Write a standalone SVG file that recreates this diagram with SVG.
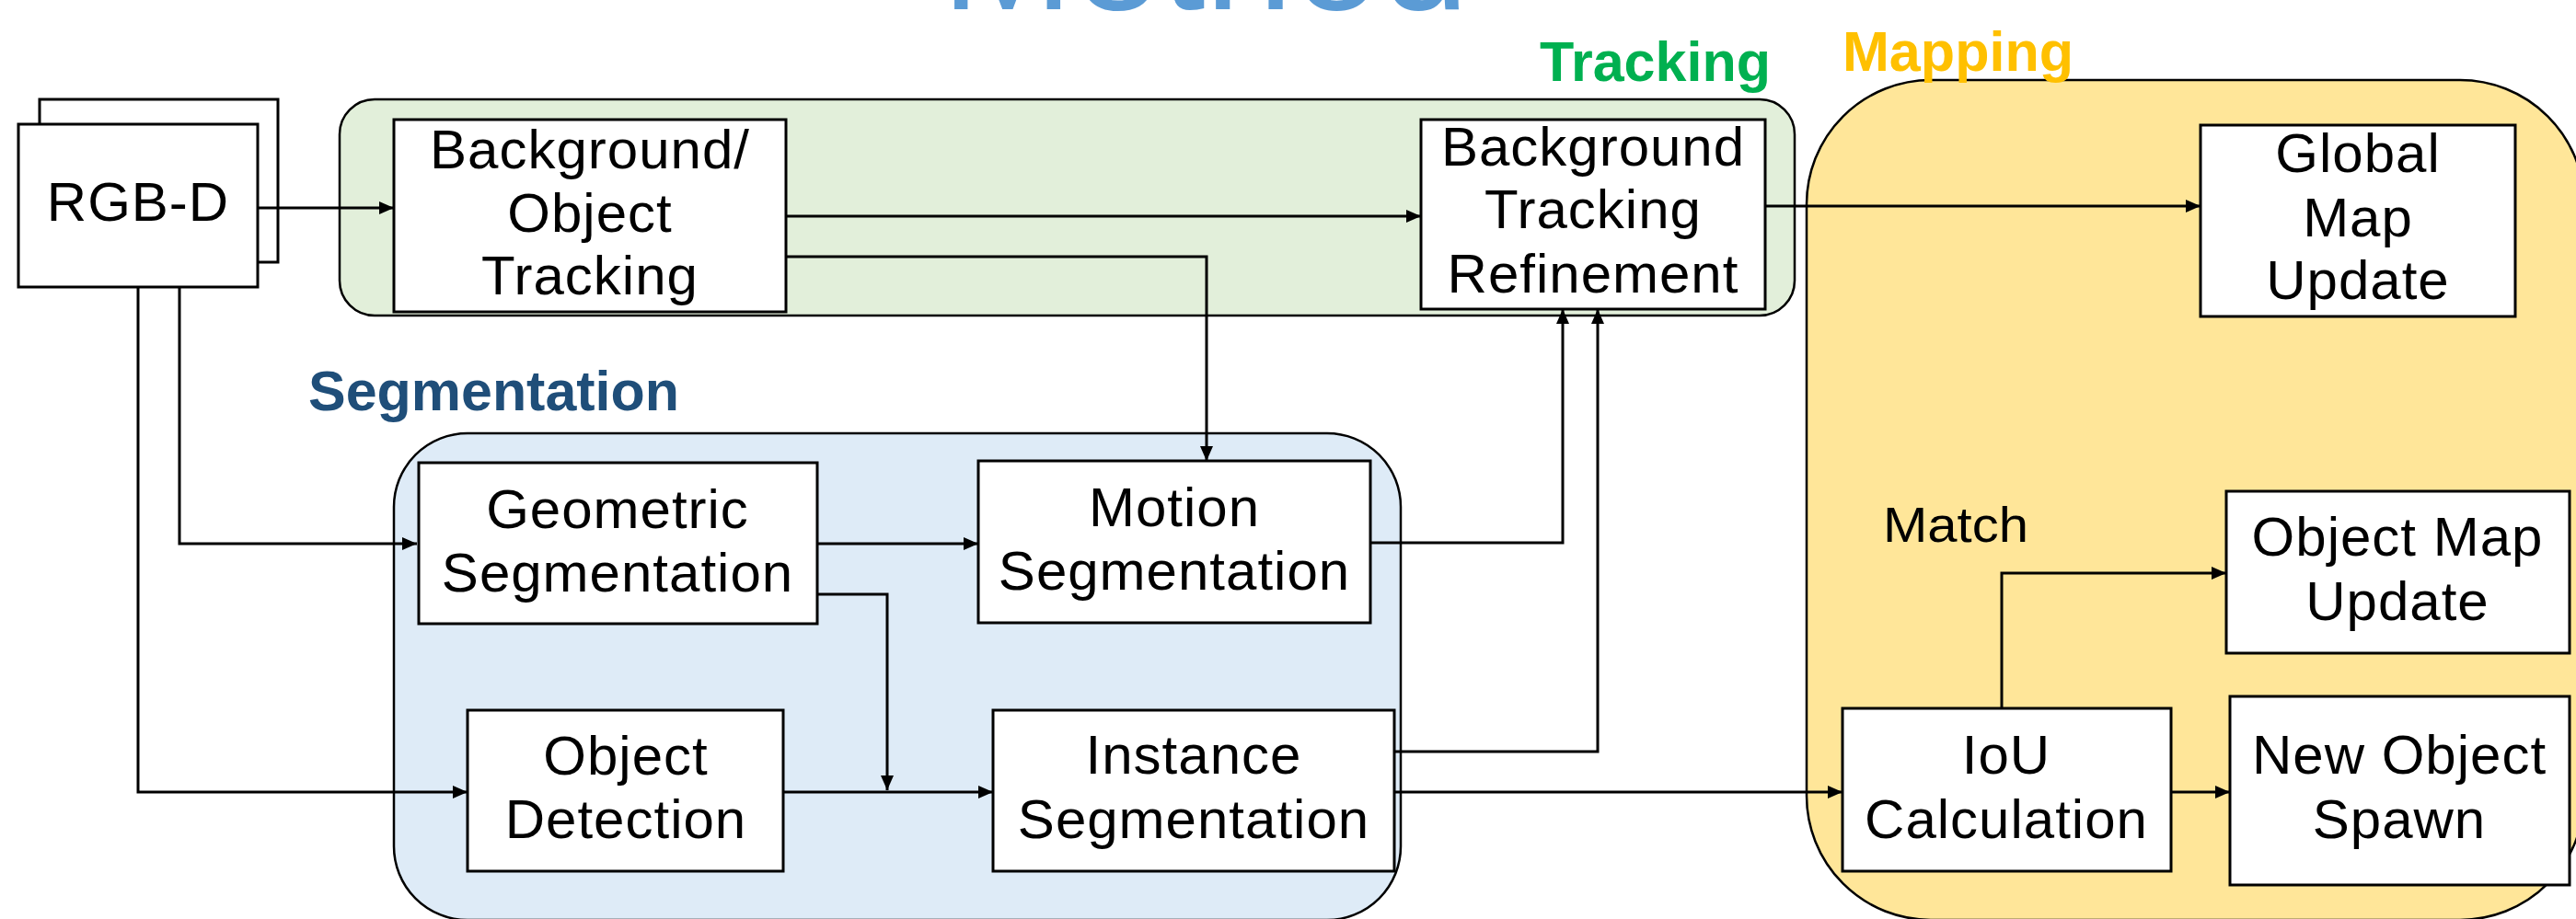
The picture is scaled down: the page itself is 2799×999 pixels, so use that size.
<svg xmlns="http://www.w3.org/2000/svg" width="2799" height="999" viewBox="0 0 2799 999">
<style>
.grp{stroke:#000;stroke-width:2.5}
.box{fill:#fff;stroke:#000;stroke-width:3}
.t{font-family:"Liberation Sans",Arial,sans-serif;font-size:60px;fill:#000;text-anchor:middle;letter-spacing:1px}
.lbl{font-family:"Liberation Sans",Arial,sans-serif;font-weight:bold;font-size:62px}
.c{fill:none;stroke:#000;stroke-width:3}
</style>
<defs>
<marker id="ah" markerUnits="userSpaceOnUse" markerWidth="17" markerHeight="15" refX="16" refY="7" orient="auto" viewBox="0 0 17 15">
<path d="M0,0 L16,7 L0,14 z" fill="#000"/>
</marker>
</defs>
<rect width="2799" height="999" fill="#fff"/>
<text x="1023" y="10" font-family="Liberation Sans,Arial,sans-serif" font-size="172" fill="#5B9BD5" textLength="573" lengthAdjust="spacingAndGlyphs">Method</text>

<g id="tracking-group">
<rect class="grp" x="369" y="108" width="1581" height="235" rx="38" ry="38" fill="#E2EFDA"/>
<text class="lbl" x="1673" y="88" fill="#00B050" textLength="251" lengthAdjust="spacingAndGlyphs">Tracking</text>
</g>
<g id="segmentation-group">
<rect class="grp" x="428" y="471" width="1094" height="529" rx="80" ry="80" fill="#DEEBF7"/>
<text class="lbl" x="335" y="446" fill="#1F4E79" textLength="403" lengthAdjust="spacingAndGlyphs">Segmentation</text>
</g>
<g id="mapping-group">
<rect class="grp" x="1963" y="87" width="845" height="913" rx="135" ry="135" fill="#FFE699"/>
<text class="lbl" x="2002" y="77" fill="#FFC000" textLength="251" lengthAdjust="spacingAndGlyphs">Mapping</text>
<text x="2046" y="589" font-family="Liberation Sans,Arial,sans-serif" font-size="54" fill="#000" textLength="158" lengthAdjust="spacingAndGlyphs">Match</text>
</g>

<g id="rgbd">
<rect class="box" x="43" y="108" width="259" height="177"/>
<rect class="box" x="20" y="135" width="260" height="177"/>
<text class="t" x="150" y="240">RGB-D</text>
</g>
<g id="bg-obj-tracking">
<rect class="box" x="428" y="130" width="426" height="209"/>
<text class="t" x="641" y="183">Background/</text>
<text class="t" x="641" y="252">Object</text>
<text class="t" x="641" y="320">Tracking</text>
</g>
<g id="bg-tracking-refinement">
<rect class="box" x="1544" y="130" width="374" height="206"/>
<text class="t" x="1731" y="180">Background</text>
<text class="t" x="1731" y="248">Tracking</text>
<text class="t" x="1731" y="318">Refinement</text>
</g>
<g id="global-map-update">
<rect class="box" x="2391" y="136" width="342" height="208"/>
<text class="t" x="2562" y="187">Global</text>
<text class="t" x="2562" y="257">Map</text>
<text class="t" x="2562" y="325">Update</text>
</g>
<g id="geometric-segmentation">
<rect class="box" x="455" y="503" width="433" height="175"/>
<text class="t" x="671" y="574">Geometric</text>
<text class="t" x="671" y="643">Segmentation</text>
</g>
<g id="motion-segmentation">
<rect class="box" x="1063" y="501" width="426" height="176"/>
<text class="t" x="1276" y="572">Motion</text>
<text class="t" x="1276" y="641">Segmentation</text>
</g>
<g id="object-detection">
<rect class="box" x="508" y="772" width="343" height="175"/>
<text class="t" x="680" y="842">Object</text>
<text class="t" x="680" y="911">Detection</text>
</g>
<g id="instance-segmentation">
<rect class="box" x="1079" y="772" width="436" height="175"/>
<text class="t" x="1297" y="841">Instance</text>
<text class="t" x="1297" y="911">Segmentation</text>
</g>
<g id="iou-calculation">
<rect class="box" x="2002" y="770" width="357" height="177"/>
<text class="t" x="2180" y="841">IoU</text>
<text class="t" x="2180" y="911">Calculation</text>
</g>
<g id="object-map-update">
<rect class="box" x="2419" y="534" width="373" height="176"/>
<text class="t" x="2605" y="604">Object Map</text>
<text class="t" x="2605" y="674">Update</text>
</g>
<g id="new-object-spawn">
<rect class="box" x="2423" y="757" width="369" height="205"/>
<text class="t" x="2607" y="841">New Object</text>
<text class="t" x="2607" y="911">Spawn</text>
</g>

<g id="connectors">
<path class="c" d="M280,226 H428" marker-end="url(#ah)"/>
<path class="c" d="M854,235 H1544" marker-end="url(#ah)"/>
<path class="c" d="M854,279 H1311 V501" marker-end="url(#ah)"/>
<path class="c" d="M195,312 V591 H453" marker-end="url(#ah)"/>
<path class="c" d="M150,312 V861 H508" marker-end="url(#ah)"/>
<path class="c" d="M888,591 H1063" marker-end="url(#ah)"/>
<path class="c" d="M888,646 H964 V859" marker-end="url(#ah)"/>
<path class="c" d="M851,861 H1079" marker-end="url(#ah)"/>
<path class="c" d="M1489,590 H1698 V336" marker-end="url(#ah)"/>
<path class="c" d="M1515,817 H1736 V336" marker-end="url(#ah)"/>
<path class="c" d="M1515,861 H2002" marker-end="url(#ah)"/>
<path class="c" d="M2359,861 H2423" marker-end="url(#ah)"/>
<path class="c" d="M2175,770 V623 H2419" marker-end="url(#ah)"/>
<path class="c" d="M1918,224 H2391" marker-end="url(#ah)"/>
</g>
</svg>
